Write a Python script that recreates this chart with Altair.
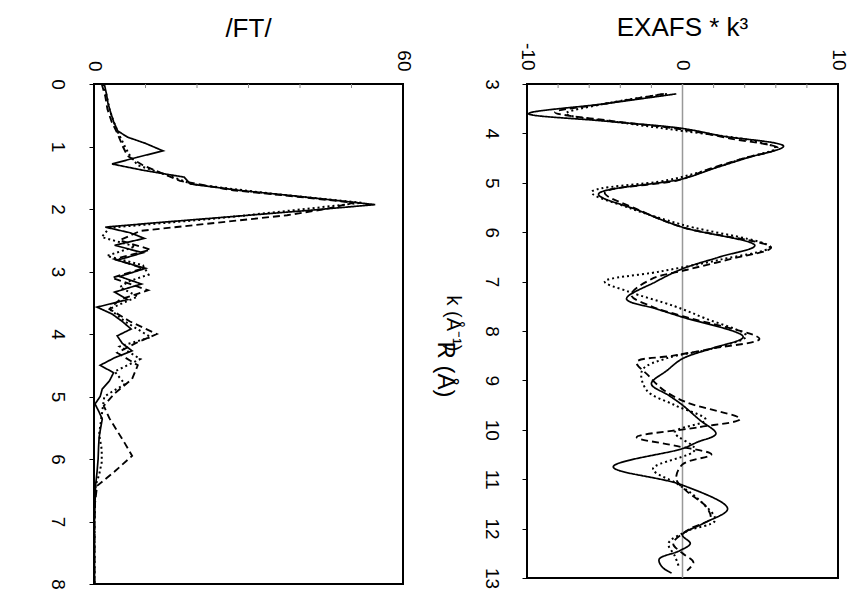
import altair as alt
import pandas as pd

FONT = "Liberation Sans"

# ---- |FT| against R (Å): three spectra ----
ft_r_1 = [0.0, 0.15, 0.3, 0.45, 0.6, 0.75, 0.85, 0.95, 1.07, 1.17,
          1.28, 1.38, 1.49, 1.6, 1.7, 1.8, 1.93, 2.02, 2.12, 2.22,
          2.29, 2.38, 2.47, 2.58, 2.7, 2.82, 2.95, 3.08, 3.2, 3.33,
          3.45, 3.57, 3.68, 3.8, 3.92, 4.03, 4.15, 4.27, 4.38, 4.5,
          4.62, 4.75, 4.88, 5.0, 5.12, 5.25, 5.36, 5.5, 5.65, 5.79,
          6.0, 6.2, 6.43, 6.7, 7.0, 7.5, 8.0]
ft_v_1 = [2.0, 2.4, 2.7, 3.2, 3.8, 4.6, 6.5, 10.0, 13.4, 8.5,
          3.5, 9.5, 17.5, 18.7, 28, 40, 54.6, 42, 27, 12,
          2.2, 7, 9.8, 4, 9.5, 4.5, 10, 5, 9.2, 4,
          6.5, 0.6, 3.5, 5.5, 7.2, 4.5, 5.5, 7.4, 4, 1.2,
          3.8, 3.0, 1.6, 1.2, 0.2, 1.0, 1.6, 1.3, 1.0, 0.9,
          0.8, 0.6, 0.3, 0.2, 0.1, 0.1, 0.1]

ft_r_2 = [0.0, 0.2, 0.4, 0.6, 0.8, 1.0, 1.15, 1.3, 1.44, 1.55,
          1.7, 1.8, 1.9, 2.0, 2.1, 2.35, 2.5, 2.65, 2.8, 2.95,
          3.1, 3.3, 3.45, 3.6, 3.8, 4.0, 4.15, 4.3, 4.5, 4.72,
          4.95, 5.15, 5.35, 5.55, 5.75, 5.95, 6.2, 6.43, 6.7, 7.0,
          7.5, 8.0]
ft_v_2 = [1.5, 2.2, 2.6, 3.4, 4.6, 5.6, 6.5, 9.5, 13.5, 16.7,
          27, 39, 50.4, 45, 37.5, 9, 5, 11, 4, 9.5,
          3.5, 10.5, 5, 3, 7, 12.2, 8, 4.5, 8.5, 7.4,
          4, 1.9, 3.0, 4.5, 6, 7.4, 4, 0.6, 0.2, 0.1,
          0.1, 0.1]

ft_r_3 = [0.0, 0.2, 0.4, 0.6, 0.8, 1.0, 1.15, 1.3, 1.45, 1.6,
          1.75, 1.9, 2.0, 2.15, 2.3, 2.45, 2.6, 2.75, 2.9, 3.05,
          3.15, 3.25, 3.4, 3.6, 3.8, 4.05, 4.2, 4.4, 4.6, 4.8,
          5.0, 5.3, 5.6, 5.85, 6.05, 6.25, 6.43, 6.7, 7.0, 7.5,
          8.0]
ft_v_3 = [1.8, 2.5, 3.0, 3.8, 4.8, 6.0, 7.0, 8.5, 14, 19,
          34, 52, 41, 24, 3, 1.5, 8, 2.5, 9.5, 10.6,
          7, 5, 8.5, 3, 6, 11, 5, 9, 4, 6,
          2, 1.5, 1.0, 1.5, 1.5, 1.0, 0.3, 0.2, 0.1, 0.1,
          0.1]

# ---- EXAFS * k^3 against k (Å^-1): three spectra ----
ex_k_1 = [3.2, 3.4, 3.6, 3.75, 3.9, 4.05, 4.26, 4.5, 4.7, 4.92,
          5.23, 5.55, 5.9, 6.27, 6.5, 6.74, 7.0, 7.35, 7.55, 7.72,
          8.12, 8.35, 8.56, 8.8, 9.07, 9.3, 9.5, 9.8, 10.08, 10.25,
          10.38, 10.75, 11.12, 11.6, 11.9, 12.13, 12.3, 12.45, 12.62, 12.78,
          12.9]
ex_v_1 = [-0.4, -5.0, -9.9, -5.0, 0, 2.5, 6.5, 4.1, 2.1, 0,
          -5.4, -2.9, 0, 4.65, 2.4, 0, -1.7, -3.6, -1.7, 0,
          3.9, 1.9, 0, -1.0, -2.0, -0.9, 0, 1.1, 2.15, 0.95,
          0, -4.45, 0, 2.9, 1.3, 0, 0.5, -0.2, -1.5, -1.3,
          -0.7]

ex_k_2 = [3.2, 3.4, 3.57, 3.75, 3.92, 4.1, 4.3, 4.5, 4.7, 4.95,
          5.2, 5.55, 5.9, 6.31, 6.55, 6.76, 6.95, 7.27, 7.5, 7.7,
          8.16, 8.35, 8.5, 8.63, 8.9, 9.2, 9.45, 9.78, 9.95, 10.15,
          10.32, 10.5, 10.7, 11.0, 11.25, 11.55, 11.8, 12.0, 12.3, 12.5,
          12.68, 12.85]
ex_v_2 = [-1.2, -5.0, -8.2, -4.5, 0, 3.0, 6.15, 4.0, 1.9, -0.3,
          -5.0, -2.8, 0, 5.7, 3.0, 0.3, -2.0, -3.3, -2.0, 0,
          4.95, 2.0, -0.6, -2.95, -2.2, -1.2, 0.3, 3.7, 1.0, -2.95,
          -0.5, 1.86, 0, -0.4, 0.3, 1.5, 1.8, 0.5, -0.6, 0,
          0.7, 0.3]

ex_k_3 = [3.2, 3.4, 3.6, 3.8, 3.95, 4.15, 4.3, 4.5, 4.75, 4.95,
          5.19, 5.5, 5.85, 6.3, 6.55, 6.8, 7.0, 7.2, 7.5, 7.75,
          8.1, 8.35, 8.55, 8.8, 9.2, 9.5, 9.8, 10.05, 10.4, 10.79,
          11.1, 11.4, 11.83, 12.05, 12.3, 12.55, 12.8]
ex_v_3 = [-1.0, -5.0, -7.5, -3.5, 0, 4.5, 6.0, 4.0, 1.5, -1.0,
          -5.85, -3.5, 0, 5.6, 2.5, -1.5, -5.0, -3.5, -0.5, 1.5,
          4.1, 2.0, -1.0, -2.6, -2.3, -0.5, 1.5, -0.5, 0.8, -1.9,
          -0.3, 1.0, 2.1, 0.3, -0.9, -0.5, -0.2]

# axis ticks
r_ticks = list(range(0, 9))
k_ticks = list(range(3, 14))
ft_inner_ticks = [10, 20, 30, 40, 50]
ex_inner_ticks = [-8, -6, -4, -2, 2, 4, 6, 8]

series = ["a", "b", "c"]


def frame(xs, ys, name, xkey, ykey):
    return pd.DataFrame({xkey: xs, ykey: ys, "series": name})


ft_df = pd.concat([
    frame(ft_r_1, ft_v_1, "a", "r", "ft"),
    frame(ft_r_2, ft_v_2, "b", "r", "ft"),
    frame(ft_r_3, ft_v_3, "c", "r", "ft"),
])
ex_df = pd.concat([
    frame(ex_k_1, ex_v_1, "a", "k", "ex"),
    frame(ex_k_2, ex_v_2, "b", "k", "ex"),
    frame(ex_k_3, ex_v_3, "c", "k", "ex"),
])

dash = alt.StrokeDash("series:N", legend=None,
                      scale=alt.Scale(domain=series, range=[[1, 0], [7, 4], [2, 3]]))
width = alt.StrokeWidth("series:N", legend=None,
                        scale=alt.Scale(domain=series, range=[1.7, 2.0, 2.0]))

# rotated tick labels with a plain hyphen for negatives
label_style = dict(labelFontSize=19, labelFont=FONT, labelColor="black",
                   labelAngle=90, grid=False, domain=False,
                   labelExpr="'' + datum.value")

# ---------------- left panel: |FT| ----------------
ft_x = alt.X("ft:Q", scale=alt.Scale(domain=[0, 60], nice=False, zero=False),
             axis=alt.Axis(orient="top", values=[0, 60], title=None, ticks=False,
                           labelPadding=13, **label_style))
ft_y = alt.Y("r:Q", scale=alt.Scale(domain=[0, 8], nice=False, reverse=True),
             axis=alt.Axis(orient="left", values=r_ticks, tickSize=5, tickColor="black",
                           labelPadding=23, title="R (Å)", titleAngle=90,
                           titleX=350, titleY=285, titleFontSize=24, titleFont=FONT,
                           titleFontWeight="normal", titleAlign="center",
                           titleBaseline="middle", titleColor="black", **label_style))

ft_lines = alt.Chart(ft_df).mark_line(color="black", clip=True).encode(
    x=ft_x, y=ft_y, detail="series:N", order="r:Q", strokeDash=dash, strokeWidth=width)

ft_marks = alt.Chart(pd.DataFrame({"ft": ft_inner_ticks})).mark_rule(
    color="#888", strokeWidth=1).encode(x="ft:Q", y=alt.value(0), y2=alt.value(4))

ft_chart = alt.layer(ft_lines, ft_marks).properties(
    width=309, height=500,
    title=alt.TitleParams("/FT/", fontSize=26, font=FONT, fontWeight="normal",
                          anchor="middle", color="black", offset=8))

# ---------------- right panel: EXAFS * k^3 ----------------
ex_x = alt.X("ex:Q", scale=alt.Scale(domain=[-10, 10], nice=False, zero=False),
             axis=alt.Axis(orient="top", values=[-10, 0, 10], title=None, ticks=False,
                           labelPadding=14, **label_style))
ex_y = alt.Y("k:Q", scale=alt.Scale(domain=[3, 13], nice=False, reverse=True),
             axis=alt.Axis(orient="left", values=k_ticks, tickSize=5, tickColor="black",
                           labelPadding=22, title="k (Å⁻¹)", titleAngle=90,
                           titleX=-75, titleY=239, titleFontSize=20, titleFont=FONT,
                           titleFontWeight="normal", titleAlign="center",
                           titleBaseline="middle", titleColor="black", **label_style))

ex_zero = alt.Chart(pd.DataFrame({"ex": [0]})).mark_rule(
    color="#999", strokeWidth=1.5).encode(x="ex:Q")

ex_lines = alt.Chart(ex_df).mark_line(color="black", clip=True,
                                      interpolate="catmull-rom").encode(
    x=ex_x, y=ex_y, detail="series:N", order="k:Q", strokeDash=dash, strokeWidth=width)

ex_marks = alt.Chart(pd.DataFrame({"ex": ex_inner_ticks})).mark_rule(
    color="#888", strokeWidth=1).encode(x="ex:Q", y=alt.value(0), y2=alt.value(4))

ex_chart = alt.layer(ex_zero, ex_lines, ex_marks).properties(
    width=311, height=494,
    title=alt.TitleParams("EXAFS * k³", fontSize=26, font=FONT, fontWeight="normal",
                          anchor="middle", color="black", offset=2))

chart = alt.hconcat(ft_chart, ex_chart, spacing=124, bounds="flush").properties(
    padding={"left": 46, "top": 13, "right": 0, "bottom": 0},
    background="white",
).configure_view(stroke="black", strokeWidth=2)

chart.save("out.html", embed_options={"renderer": "svg", "actions": False})
